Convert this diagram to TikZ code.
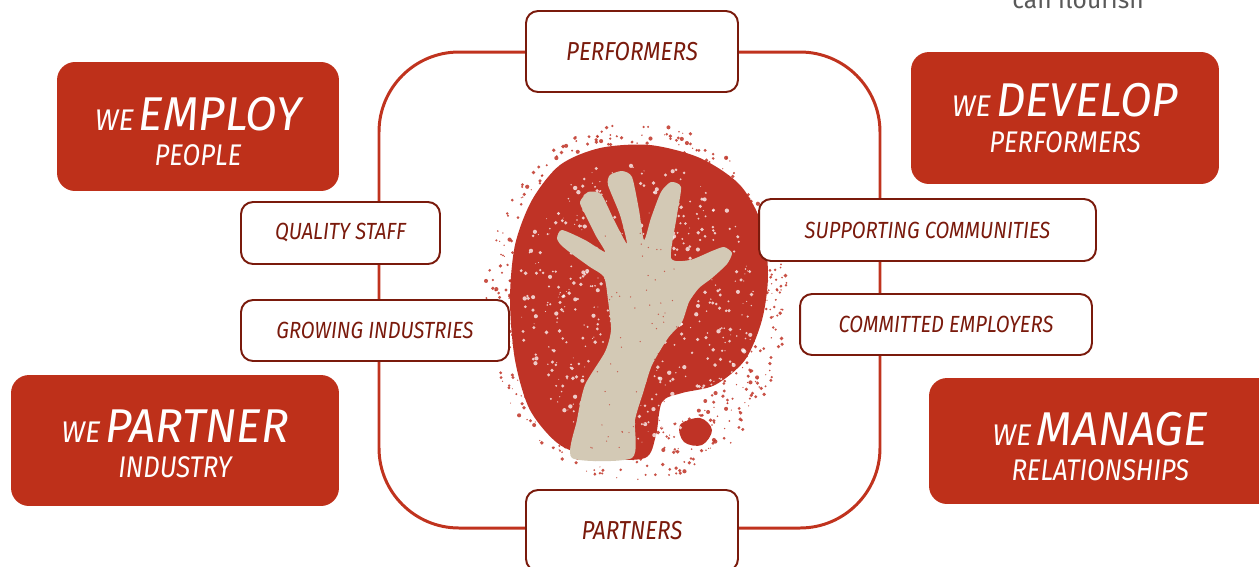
\documentclass[tikz,border=0pt]{standalone}
\usepackage{fontspec}
\setmainfont{Fira Sans}
\newfontfamily\diagfont[FakeStretch=0.86]{Fira Sans}
\newfontfamily\headfont[FakeStretch=0.97]{Fira Sans}
\definecolor{boxred}{HTML}{BE301A}
\definecolor{framered}{HTML}{C0331E}
\definecolor{darkred}{HTML}{7A1A0C}
\definecolor{handbeige}{HTML}{D3C9B5}
\definecolor{splatred}{HTML}{BF3326}
\newcommand{\bigsize}{\headfont\itshape\fontsize{27}{20}\selectfont}
\newcommand{\we}{{\headfont\itshape WE}}
\tikzset{
  bigbox/.style={fill=boxred, rounded corners=0.36cm, inner sep=0pt},
  bigtext/.style={text=white, align=center, inner sep=0pt,
    font=\diagfont\itshape\fontsize{17}{20}\selectfont},
  smallbox/.style={draw=darkred, line width=1.1pt, fill=white, rounded corners=0.24cm,
    text=darkred, inner sep=0pt, font=\diagfont\itshape\fontsize{13.3}{15}\selectfont},
  loopbox/.style={smallbox, minimum width=4.24cm, minimum height=1.62cm,
    font=\diagfont\itshape\fontsize{14.8}{16}\selectfont},
  frameline/.style={draw=framered, line width=1.7pt, rounded corners=1.6cm}
}
\begin{document}
\begin{tikzpicture}[x=0.02cm,y=-0.02cm]
\useasboundingbox (0,0) rectangle (1259,566);
% cut-off line above
\node[anchor=base, text=black!65, font=\fontsize{14}{14}\selectfont] (flourish) at (1078,8) {can flourish};
% outer loop
\draw[frameline] (379,52) rectangle (880,528);
% splatter
\fill[splatred] plot[smooth cycle, tension=0.5] coordinates {(560,165) (600,148) (650,145) (700,158) (740,185) (762,225) (768,275) (762,320) (745,360) (715,385) (682,393) (662,402) (656,435) (645,458) (600,458) (560,445) (530,410) (515,360) (510,300) (515,245) (532,200)};
\fill[splatred] plot[smooth cycle, tension=0.6] coordinates {(680,425) (700,418) (712,430) (702,445) (684,442)};
\pgfmathsetseed{42}
\foreach \i in {1,...,700}{
  \pgfmathsetmacro\ang{rnd*360}
  \pgfmathsetmacro\rad{0.82+0.33*rnd}
  \pgfmathsetmacro\dotr{0.3+0.9*rnd}
  \fill[splatred, opacity=0.85] ({636+132*\rad*cos(\ang)},{302+157*\rad*sin(\ang)}) circle[radius=\dotr pt];
}
\foreach \i in {1,...,600}{
  \pgfmathsetmacro\ang{rnd*360}
  \pgfmathsetmacro\rad{sqrt(rnd)*0.95}
  \pgfmathsetmacro\dotr{0.25+1.0*rnd}
  \fill[white, opacity=0.75] ({636+125*\rad*cos(\ang)},{302+150*\rad*sin(\ang)}) circle[radius=\dotr pt];
}
% hand
\fill[handbeige] plot[smooth cycle, tension=0.4] coordinates {(572,458) (577,420) (585,385) (605,352) (611,330) (608,300) (604,277) (590,267) (572,254) (561,245) (557,238) (562,230) (585,240) (605,252)
  (596,236) (584,212) (580,202) (588,192) (601,194) (614,220) (627,244)
  (620,215) (608,185) (610,175) (622,171) (632,177) (639,210) (644,240)
  (651,218) (661,192) (671,182) (681,187) (677,215) (671,258)
  (690,260) (712,251) (724,247) (732,253) (727,264) (712,278) (699,288) (689,302) (682,322) (668,338) (652,365) (643,393) (635,420) (632,458)};
\foreach \i in {1,...,70}{
  \fill[splatred, opacity=0.7] ({590+90*rnd},{230+220*rnd}) circle[radius=0.4pt];
}
% red boxes
\node[bigbox, minimum width=5.64cm, minimum height=2.58cm] (employ) at (198,126.5) {};
\node[bigbox, minimum width=6.16cm, minimum height=2.64cm] (develop) at (1065,118) {};
\node[bigbox, minimum width=6.56cm, minimum height=2.62cm] (partner) at (175,440.5) {};
\node[bigbox, minimum width=6.92cm, minimum height=2.52cm] (manage) at (1102,441) {};
\node[bigtext, yshift=-3.1pt] (employtxt) at (employ) {\we\,{\bigsize EMPLOY}\\PEOPLE};
\node[bigtext] (developtxt) at (develop) {\we\,{\bigsize DEVELOP}\\PERFORMERS};
\node[bigtext, yshift=-1.7pt] (partnertxt) at (partner) {\we\,{\bigsize PARTNER}\\INDUSTRY};
\node[bigtext, yshift=-3.1pt, xshift=-1pt] (managetxt) at (manage) {\we\,{\bigsize MANAGE}\\RELATIONSHIPS};
% white boxes on the loop
\node[loopbox] (performers) at (632,51.5) {PERFORMERS};
\node[loopbox] (partners) at (632,530.5) {PARTNERS};
\node[smallbox, minimum width=3.98cm, minimum height=1.24cm] (quality) at (340.5,233) {QUALITY STAFF};
\node[smallbox, minimum width=5.36cm, minimum height=1.22cm] (growing) at (375,330.5) {GROWING INDUSTRIES};
\node[smallbox, minimum width=6.74cm, minimum height=1.24cm] (supporting) at (927.5,230) {SUPPORTING COMMUNITIES};
\node[smallbox, minimum width=5.84cm, minimum height=1.22cm] (committed) at (946,324.5) {COMMITTED EMPLOYERS};
\end{tikzpicture}
\end{document}
